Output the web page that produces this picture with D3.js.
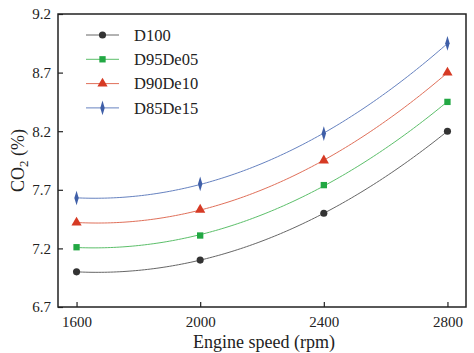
<!DOCTYPE html>
<html>
<head>
<meta charset="utf-8">
<script src="https://cdn.jsdelivr.net/npm/d3@7"></script>
<style>
  body { margin: 0; background: #fff; }
  svg text { font-family: "Liberation Serif", "Times New Roman", serif; fill: #222; }
</style>
</head>
<body>
<svg width="474" height="353"></svg>
<script>
// engine speed (rpm)
const speeds = [1600, 2000, 2400, 2800];
// CO2 (%) for each fuel blend
const d100    = [7.00, 7.10, 7.50, 8.20];
const d95de05 = [7.21, 7.31, 7.74, 8.45];
const d90de10 = [7.42, 7.53, 7.95, 8.70];
const d85de15 = [7.63, 7.75, 8.18, 8.95];
const xTicks = [1600, 2000, 2400, 2800];
const yTicks = [6.7, 7.2, 7.7, 8.2, 8.7, 9.2];

const series = [
    { name: "D100",    values: d100,    line: "#666", color: "#333", symbol: d3.symbolCircle,   size: 40 },
    { name: "D95De05", values: d95de05, line: "#5cbf6a", color: "#22a843", symbol: d3.symbolSquare, size: 40 },
    { name: "D90De10", values: d90de10, line: "#e0705a", color: "#d63a24", symbol: d3.symbolTriangle, size: 45 },
    { name: "D85De15", values: d85de15, line: "#6682c0", color: "#3f5fa8", symbol: d3.symbolDiamond, size: 40 }
];

const margin = { top: 14, right: 8, bottom: 46, left: 58 };
const width = 474 - margin.left - margin.right;
const height = 353 - margin.top - margin.bottom;

const svg = d3.select("svg")
    .append("g")
    .attr("transform", `translate(${margin.left},${margin.top})`);

const x = d3.scaleLinear().domain([1540, 2860]).range([0, width]);
const y = d3.scaleLinear().domain([6.7, 9.2]).range([height, 0]);

// quadratic least squares fit, like the trend lines of the original
function quadFit(xs, ys) {
    const t = xs.map(v => (v - 1600) / 400);
    let s = [0, 0, 0, 0, 0], r = [0, 0, 0];
    t.forEach((ti, i) => {
        for (let k = 0; k < 5; k++) s[k] += Math.pow(ti, k);
        for (let k = 0; k < 3; k++) r[k] += ys[i] * Math.pow(ti, k);
    });
    const A = [[s[0], s[1], s[2], r[0]], [s[1], s[2], s[3], r[1]], [s[2], s[3], s[4], r[2]]];
    for (let i = 0; i < 3; i++) {
        for (let j = i + 1; j < 3; j++) {
            const f = A[j][i] / A[i][i];
            for (let k = i; k < 4; k++) A[j][k] -= f * A[i][k];
        }
    }
    const c = [0, 0, 0];
    for (let i = 2; i >= 0; i--) {
        let v = A[i][3];
        for (let k = i + 1; k < 3; k++) v -= A[i][k] * c[k];
        c[i] = v / A[i][i];
    }
    return xv => { const tv = (xv - 1600) / 400; return c[0] + c[1] * tv + c[2] * tv * tv; };
}

const line = d3.line().x(d => x(d[0])).y(d => y(d[1]));
const xs = d3.range(1600, 2800.1, 10);

series.forEach(s => {
    const f = quadFit(speeds, s.values);
    svg.append("path")
        .attr("d", line(xs.map(v => [v, f(v)])))
        .attr("fill", "none")
        .attr("stroke", s.line)
        .attr("stroke-width", 1);

    svg.selectAll(null)
        .data(speeds.map((v, i) => [v, s.values[i]]))
        .enter().append("path")
        .attr("transform", d => `translate(${x(d[0])},${y(d[1])})` + (s.symbol === d3.symbolDiamond ? " scale(0.65,1.25)" : ""))
        .attr("d", d3.symbol().type(s.symbol).size(s.size))
        .attr("fill", s.color);
});

// axes with inward ticks
svg.append("g")
    .attr("transform", `translate(0,${height})`)
    .call(d3.axisBottom(x).tickValues(xTicks).tickSize(-5).tickPadding(9).tickFormat(d3.format("d")))
    .call(g => g.select(".domain").remove());

svg.append("g")
    .call(d3.axisLeft(y).tickValues(yTicks).tickSize(-5).tickPadding(7).tickFormat(d3.format(".1f")))
    .call(g => g.select(".domain").remove());

svg.selectAll(".tick line").attr("stroke", "#222").attr("stroke-width", 1.2);
svg.selectAll(".tick text").style("font-size", "15px").style("font-family", "Liberation Serif, serif").attr("fill", "#222");

svg.append("rect")
    .attr("width", width)
    .attr("height", height)
    .attr("fill", "none")
    .attr("stroke", "#222")
    .attr("stroke-width", 1.5);

// axis titles
svg.append("text")
    .attr("x", width / 2 + 2)
    .attr("y", height + 41)
    .attr("text-anchor", "middle")
    .style("font-size", "18px")
    .text("Engine speed (rpm)");

const yt = svg.append("text")
    .attr("transform", `translate(-34,${height / 2}) rotate(-90)`)
    .attr("text-anchor", "middle")
    .style("font-size", "18px");
yt.append("tspan").text("CO");
yt.append("tspan").attr("dy", 4).style("font-size", "13px").text("2");
yt.append("tspan").attr("dy", -4).text(" (%)");

// legend
const legend = svg.append("g").attr("transform", "translate(28,21)");
series.forEach((s, i) => {
    const g = legend.append("g").attr("transform", `translate(0,${i * 24.3})`);
    g.append("line").attr("x1", 0).attr("x2", 33).attr("stroke", s.line).attr("stroke-width", 1);
    g.append("path")
        .attr("transform", "translate(16.5,0)" + (s.symbol === d3.symbolDiamond ? " scale(0.65,1.25)" : ""))
        .attr("d", d3.symbol().type(s.symbol).size(s.size))
        .attr("fill", s.color);
    g.append("text").attr("x", 48).attr("dy", "0.35em").style("font-size", "16.5px").text(s.name);
});
</script>
</body>
</html>
